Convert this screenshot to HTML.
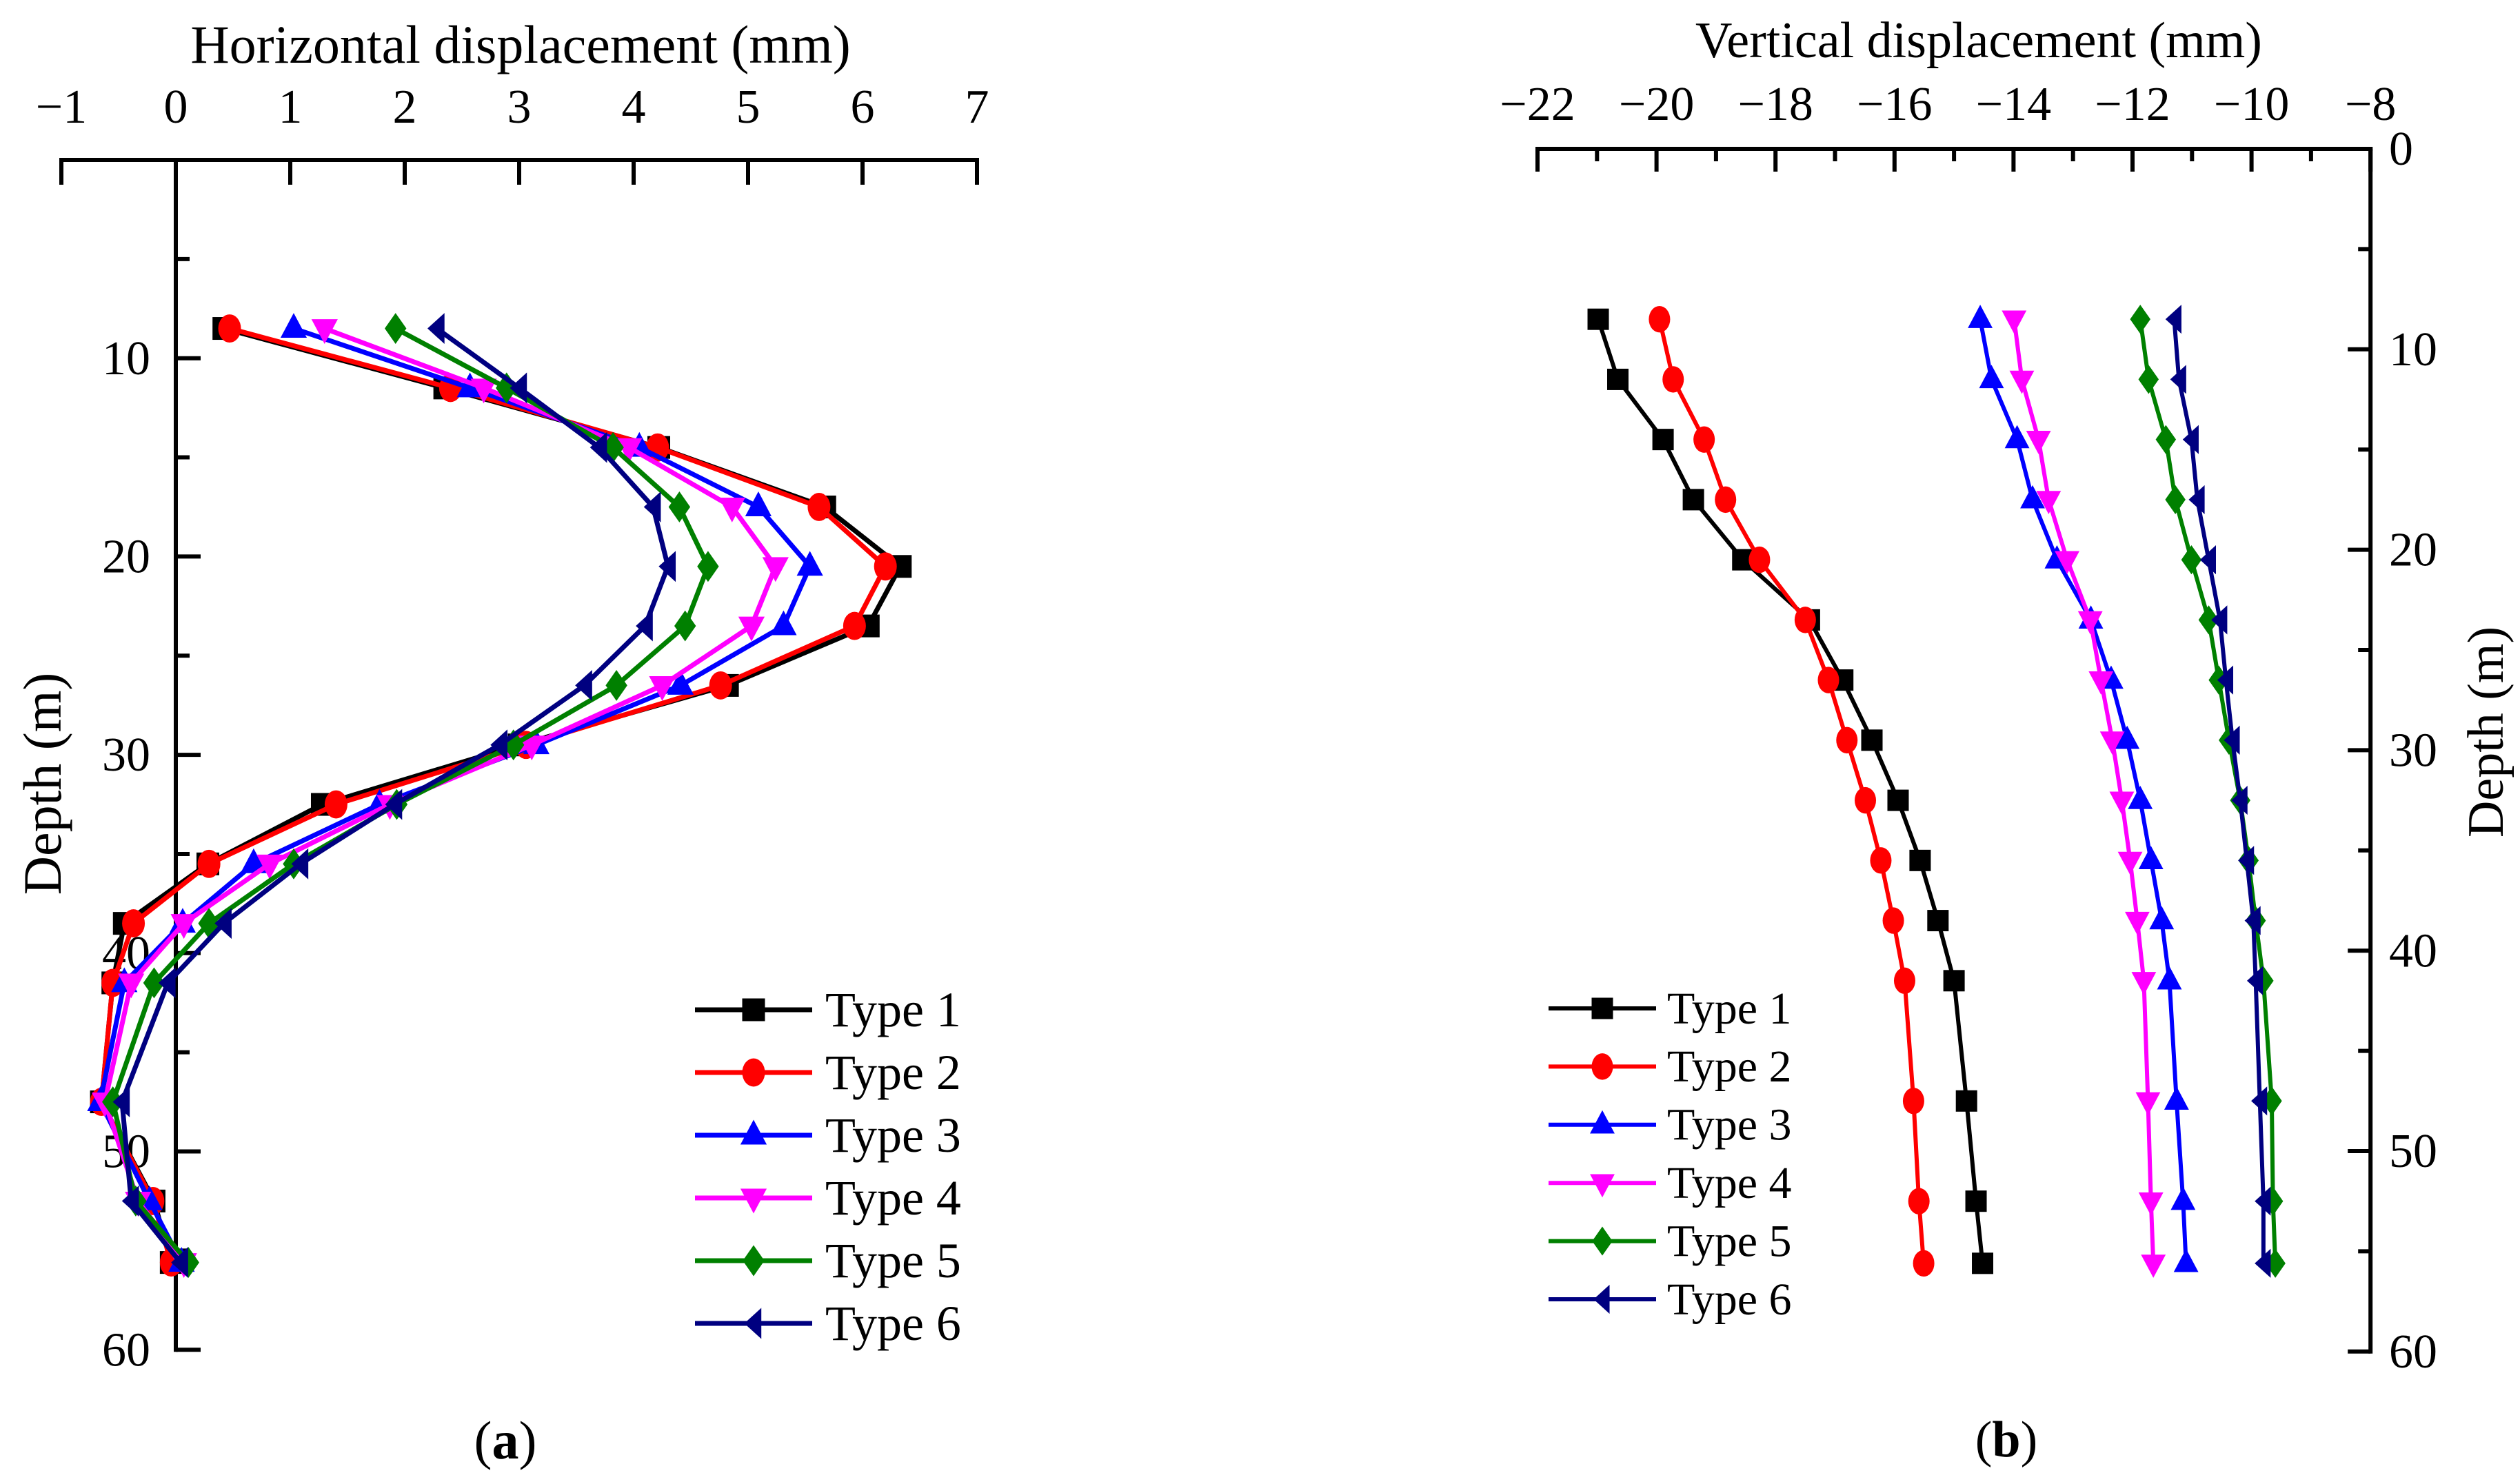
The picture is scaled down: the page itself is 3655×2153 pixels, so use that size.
<!DOCTYPE html>
<html><head><meta charset="utf-8"><style>
html,body{margin:0;padding:0;background:#fff;}
svg{display:block;font-family:"Liberation Serif",serif;}
</style></head><body>
<svg id="fig" width="3655" height="2153" viewBox="0 0 3655 2153" xmlns="http://www.w3.org/2000/svg">
<g id="pa"></g>
<g id="pb"></g>
</svg>
<script>
const depths = [8.5,11.5,14.5,17.5,20.5,23.5,26.5,29.5,32.5,35.5,38.5,41.5,47.5,52.5,55.6];
const seriesNames = ["Type 1","Type 2","Type 3","Type 4","Type 5","Type 6"];
const hType1 = [0.42,2.35,4.22,5.67,6.33,6.05,4.82,3.0,1.28,0.28,-0.45,-0.55,-0.65,-0.19,-0.04];
const hType2 = [0.47,2.4,4.21,5.62,6.2,5.93,4.76,3.06,1.4,0.29,-0.37,-0.55,-0.65,-0.2,-0.04];
const hType3 = [1.03,2.57,4.05,5.09,5.54,5.31,4.41,3.15,1.78,0.68,0.06,-0.45,-0.66,-0.23,0.05];
const hType4 = [1.3,2.69,3.96,4.86,5.24,5.03,4.25,3.11,1.87,0.82,0.07,-0.39,-0.62,-0.33,0.07];
const hType5 = [1.92,2.89,3.82,4.4,4.65,4.45,3.85,2.95,1.93,1.03,0.29,-0.19,-0.55,-0.35,0.11];
const hType6 = [2.28,3.0,3.7,4.17,4.3,4.1,3.57,2.83,1.91,1.09,0.42,-0.07,-0.47,-0.39,0.04];
const vType1 = [-20.98,-20.65,-19.89,-19.38,-18.55,-17.43,-16.87,-16.38,-15.94,-15.57,-15.27,-15.0,-14.79,-14.63,-14.52];
const vType2 = [-19.95,-19.72,-19.2,-18.84,-18.27,-17.5,-17.11,-16.8,-16.49,-16.23,-16.02,-15.83,-15.68,-15.59,-15.51];
const vType3 = [-14.56,-14.37,-13.94,-13.68,-13.27,-12.7,-12.36,-12.09,-11.87,-11.69,-11.51,-11.38,-11.26,-11.15,-11.1];
const vType4 = [-13.99,-13.86,-13.58,-13.41,-13.1,-12.71,-12.53,-12.34,-12.18,-12.04,-11.92,-11.81,-11.74,-11.69,-11.65];
const vType5 = [-11.87,-11.73,-11.44,-11.28,-11.01,-10.72,-10.55,-10.38,-10.19,-10.05,-9.93,-9.8,-9.66,-9.64,-9.6];
const vType6 = [-11.3,-11.22,-11.01,-10.91,-10.72,-10.53,-10.43,-10.32,-10.19,-10.08,-9.97,-9.93,-9.86,-9.8,-9.8];
const hTicks = [-1,0,1,2,3,4,5,6,7];
const vTicks = [-22,-20,-18,-16,-14,-12,-10,-8];
const depthTicks = [0,10,20,30,40,50,60];

const NS="http://www.w3.org/2000/svg";
const colors=["#000000","#ff0000","#0000ff","#ff00ff","#008000","#000080"];
const shapes=["square","circle","up","down","diamond","left"];
function mk(parent,tag,attrs){const e=document.createElementNS(NS,tag);for(const k in attrs)e.setAttribute(k,attrs[k]);parent.appendChild(e);return e;}
function marker(g,shape,cx,cy,s,col){
  let e;
  if(shape==="square") e=mk(g,"rect",{x:cx-s/2,y:cy-s/2,width:s,height:s,fill:col});
  else if(shape==="circle") e=mk(g,"ellipse",{cx:cx,cy:cy,rx:s*0.5,ry:s*0.62,fill:col});
  else {
    const r=s*0.68;let p;
    if(shape==="up") p=[[cx,cy-r],[cx+r*0.85,cy+r*0.6],[cx-r*0.85,cy+r*0.6]];
    else if(shape==="down") p=[[cx,cy+r],[cx+r*0.85,cy-r*0.6],[cx-r*0.85,cy-r*0.6]];
    else if(shape==="diamond") p=[[cx,cy-r],[cx+r*0.7,cy],[cx,cy+r],[cx-r*0.7,cy]];
    else p=[[cx-r*0.6,cy],[cx+r*0.5,cy-r],[cx+r*0.5,cy+r]];
    e=mk(g,"polygon",{points:p.map(q=>q.join(",")).join(" "),fill:col});
  }
  return e;
}
function panel(g,cfg){
  const X=v=>cfg.x0+(v-cfg.xmin)*cfg.xs;
  const Y=d=>cfg.y0+d*cfg.ys;
  const ax=mk(g,"g",{});
  
  
  const xa=mk(ax,"line",{x1:X(cfg.xmin),x2:X(cfg.xmax),y1:cfg.y0,y2:cfg.y0,stroke:"#000","stroke-width":cfg.lw,"stroke-linecap":"square"});
  
  
  const ya=mk(ax,"line",{x1:X(cfg.yAxisAt),x2:X(cfg.yAxisAt),y1:cfg.y0,y2:Y(60),stroke:"#000","stroke-width":cfg.lw,"stroke-linecap":"square"});
  
  
  for(let v=cfg.xmin;v<=cfg.xmax+1e-9;v+=cfg.minorStep){
    const major=Math.abs(((v-cfg.xmin)/cfg.majorStep)-Math.round((v-cfg.xmin)/cfg.majorStep))<1e-6;
    const t=mk(ax,"line",{x1:X(v),x2:X(v),y1:cfg.y0,y2:cfg.y0+(major?cfg.tickL:cfg.tickS),stroke:"#000","stroke-width":cfg.lw});
    
    
  }
  cfg.xTicks.forEach(v=>{
    const t=mk(ax,"text",{x:X(v),y:cfg.tickBase,"font-size":cfg.fs,"text-anchor":"middle"});
    t.textContent=v<0?"\u2212"+Math.abs(v):String(v);
    
    
  });
  const yx=X(cfg.yAxisAt);
  for(let d=5;d<=60;d+=5){
    const major=d%10===0;
    const t=mk(ax,"line",{x1:yx,x2:yx+cfg.yDir*(major?cfg.tickL:cfg.tickS),y1:Y(d),y2:Y(d),stroke:"#000","stroke-width":cfg.lw});
    
    
  }
  depthTicks.forEach(d=>{
    if(d===0&&!cfg.showZero)return;
    const t=mk(ax,"text",{x:cfg.yLabX,y:Y(d)+cfg.fs*0.33,"font-size":cfg.fs,"text-anchor":cfg.yLabAnchor});
    t.textContent=String(d);
    
    
  });
  const tt=mk(ax,"text",{x:cfg.titleX,y:cfg.titleY,"font-size":cfg.tfs,"text-anchor":"middle"});
  tt.textContent=cfg.title;
  
  
  const yt=mk(ax,"text",{x:0,y:0,"font-size":cfg.tfs,"text-anchor":"middle",transform:`translate(${cfg.yTitleX},${cfg.yTitleY}) rotate(-90)`});
  yt.textContent="Depth (m)";
  
  
  cfg.data.forEach((vals,i)=>{
    const sg=mk(g,"g",{});
    
    
    const pl=mk(sg,"polyline",{points:vals.map((v,j)=>X(v)+","+Y(depths[j])).join(" "),fill:"none",stroke:colors[i],"stroke-width":cfg.slw,"stroke-linejoin":"round"});
    
    
    vals.forEach((v,j)=>{
      const m=marker(sg,shapes[i],X(v),Y(depths[j]),cfg.ms,colors[i]);
      
      
    });
  });
  const lg=mk(g,"g",{});
  
  
  seriesNames.forEach((n,i)=>{
    const y=cfg.legY+i*cfg.legDy;
    const eg=mk(lg,"g",{});
    
    
    mk(eg,"line",{x1:cfg.legX1,x2:cfg.legX2,y1:y,y2:y,stroke:colors[i],"stroke-width":cfg.slw});
    marker(eg,shapes[i],(cfg.legX1+cfg.legX2)/2,y,cfg.ms,colors[i]);
    const t=mk(eg,"text",{x:cfg.legTX,y:y+cfg.lfs*0.33,"font-size":cfg.lfs});
    t.textContent=n;
  });
  const cap=mk(g,"text",{x:cfg.capX,y:cfg.capY,"font-size":cfg.tfs,"text-anchor":"middle"});
  cap.innerHTML='(<tspan font-weight="bold">'+cfg.cap+'</tspan>)';
  
  
}
panel(document.getElementById("pa"),{
  x0:89,xmin:-1,xmax:7,xs:166,y0:232,ys:28.77,yAxisAt:0,lw:6,tickL:36,tickS:20,
  minorStep:1,majorStep:1,xTicks:hTicks,fs:70,tickBase:178,yDir:1,yLabX:218,yLabAnchor:"end",showZero:false,
  title:"Horizontal displacement (mm)",titleX:755,titleY:91,tfs:78,yTitleX:88,yTitleY:1137,
  data:[hType1,hType2,hType3,hType4,hType5,hType6],slw:7,ms:33,
  legX1:1008,legX2:1178,legTX:1197,legY:1465,legDy:91,lfs:72,cap:"a",capX:733,capY:2116
});
panel(document.getElementById("pb"),{
  x0:2230,xmin:-22,xmax:-8,xs:86.3,y0:216,ys:29.08,yAxisAt:-8,lw:6,tickL:33,tickS:18,
  minorStep:1,majorStep:2,xTicks:vTicks,fs:70,tickBase:174,yDir:-1,yLabX:3465,yLabAnchor:"start",showZero:true,
  title:"Vertical displacement (mm)",titleX:2870,titleY:83,tfs:74,yTitleX:3630,yTitleY:1062,
  data:[vType1,vType2,vType3,vType4,vType5,vType6],slw:6,ms:31,
  legX1:2246,legX2:2402,legTX:2418,legY:1463,legDy:84.4,lfs:66,cap:"b",capX:2910,capY:2113
});
</script>
</body></html>
